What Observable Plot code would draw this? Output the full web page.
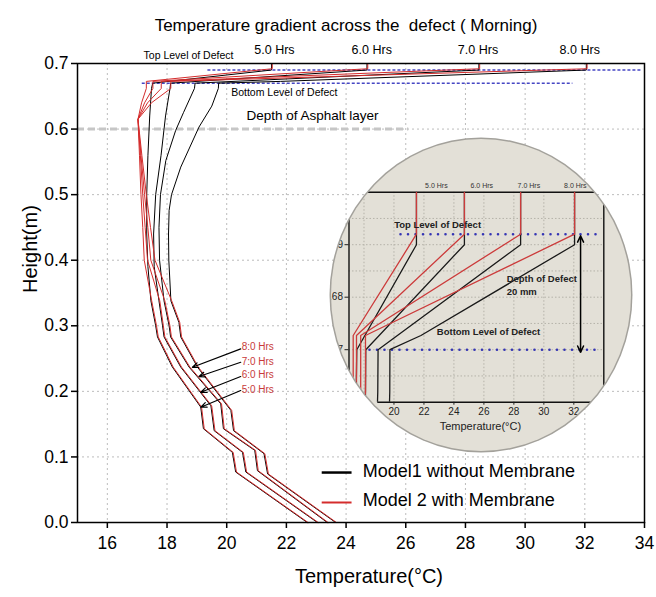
<!DOCTYPE html>
<html><head><meta charset="utf-8">
<script src="https://cdn.jsdelivr.net/npm/d3@7"></script>
<script src="https://cdn.jsdelivr.net/npm/@observablehq/plot@0.6"></script>
<style>
html,body{margin:0;padding:0;overflow:hidden;background:#fff;}
#wrap{position:relative;width:656px;height:597px;font-family:"Liberation Sans",Arial,sans-serif;}
#wrap svg{position:absolute;left:0;top:0;}
#lens{position:absolute;left:331px;top:139px;width:300px;height:312px;border-radius:50%;overflow:hidden;background:#e3e0d7;box-shadow:0 0 0 1.5px #a3a19b;}
#overlay{position:absolute;left:0;top:0;pointer-events:none;}
</style></head><body><div id="wrap"><div id="mainbox"></div><div id="lens"></div><div id="overlay"></div></div>
<script>
// ---------- data ----------
const hours = ["5.0 Hrs", "6.0 Hrs", "7.0 Hrs", "8.0 Hrs"];
const xTicks = [16, 18, 20, 22, 24, 26, 28, 30, 32, 34];
const yTicks = [0, 0.1, 0.2, 0.3, 0.4, 0.5, 0.6, 0.7];
const insetXTicks = [18, 20, 22, 24, 26, 28, 30, 32];
const insetYTicks = [0.67, 0.68, 0.69];
const arrowLabels = ["8:0 Hrs", "7:0 Hrs", "6:0 Hrs", "5:0 Hrs"];
const legendLabels = ["Model1 without Membrane", "Model 2 with Membrane"];

// upper parts (surface -> defect -> asphalt), [temperature °C, height m]
const model1Upper_5h = [[21.5,0.700],[21.5,0.690],[17.52,0.670],[17.48,0.662],[17.42,0.620],[17.36,0.560],[17.32,0.500],[17.32,0.440],[17.36,0.390]];
const model1Upper_6h = [[24.7,0.700],[24.7,0.690],[18.12,0.670],[18.10,0.662],[17.95,0.620],[17.80,0.560],[17.62,0.500],[17.55,0.440],[17.57,0.390]];
const model1Upper_7h = [[28.45,0.700],[28.45,0.690],[18.94,0.670],[18.92,0.662],[18.55,0.625],[18.29,0.598],[17.96,0.552],[17.78,0.500],[17.73,0.450],[17.75,0.400]];
const model1Upper_8h = [[32.05,0.700],[32.05,0.690],[21.80,0.6727],[19.73,0.670],[19.72,0.662],[19.50,0.635],[19.07,0.603],[18.46,0.542],[18.15,0.500],[18.07,0.476],[18.05,0.440],[18.06,0.400]];

const model2Upper_5h = [[21.5,0.700],[21.5,0.692],[17.28,0.6727],[17.28,0.662],[17.12,0.640],[17.00,0.615],[17.05,0.560],[17.10,0.500],[17.16,0.450],[17.21,0.400]];
const model2Upper_6h = [[24.7,0.700],[24.7,0.692],[17.50,0.6727],[17.50,0.662],[17.22,0.640],[17.00,0.615],[17.08,0.560],[17.16,0.500],[17.24,0.450],[17.32,0.400]];
const model2Upper_7h = [[28.45,0.700],[28.45,0.692],[17.78,0.6727],[17.78,0.662],[17.32,0.640],[17.00,0.615],[17.10,0.560],[17.22,0.500],[17.33,0.450],[17.43,0.400]];
const model2Upper_8h = [[32.05,0.700],[32.05,0.692],[18.10,0.6727],[18.10,0.662],[17.45,0.640],[17.00,0.615],[17.13,0.560],[17.28,0.500],[17.42,0.450],[17.57,0.400]];

// lower parts (base layers), shared by both models
const lower_5h = [[17.46,0.338],[17.62,0.300],[17.68,0.283],[18.18,0.237],[19.13,0.176],[19.22,0.143],[20.19,0.107],[20.30,0.077],[22.70,0.000]];
const lower_6h = [[17.73,0.338],[17.85,0.300],[17.90,0.283],[18.46,0.237],[19.47,0.178],[19.58,0.140],[20.53,0.107],[20.64,0.077],[23.04,0.000]];
const lower_7h = [[17.90,0.338],[18.07,0.300],[18.12,0.283],[18.74,0.237],[19.80,0.181],[19.89,0.143],[20.94,0.110],[21.03,0.079],[23.37,0.000]];
const lower_8h = [[18.13,0.338],[18.40,0.305],[18.46,0.283],[19.02,0.237],[20.14,0.171],[20.23,0.140],[21.25,0.105],[21.37,0.074],[23.65,0.000]];

// ---------- tables ----------
const model1 = [model1Upper_5h.concat(lower_5h), model1Upper_6h.concat(lower_6h), model1Upper_7h.concat(lower_7h), model1Upper_8h.concat(lower_8h)];
const model2 = [model2Upper_5h.concat(lower_5h), model2Upper_6h.concat(lower_6h), model2Upper_7h.concat(lower_7h), model2Upper_8h.concat(lower_8h)];
const toRows = (profiles) => profiles.flatMap((p, i) => p.map(([T, H]) => ({hour: hours[i], T, H})));
const rows1 = toRows(model1);
const rows2 = toRows(model2);

const FONT = "Liberation Sans, Arial, sans-serif";
const BLACK = "#000";
const RED = "#d42c2c";
const BLUE = "#4646c4";

// ---------- main chart ----------
const main = Plot.plot({
  width: 656, height: 597,
  marginLeft: 77, marginRight: 12, marginTop: 63, marginBottom: 75,
  style: {fontFamily: FONT, fontSize: "17.5px", color: "#000", background: "#fff"},
  x: {domain: [15, 34]},
  y: {domain: [0, 0.7]},
  marks: [
    Plot.ruleX(xTicks.slice(0, -1), {stroke: "#bcbcbc", strokeDasharray: "2,3", strokeWidth: 1}),
    Plot.ruleY(yTicks.slice(1, -1), {stroke: "#bcbcbc", strokeDasharray: "2,3", strokeWidth: 1}),
    Plot.ruleY([0.6], {x1: 15, x2: 26.1, stroke: "#c6c6c6", strokeWidth: 3, strokeDasharray: "7,4"}),
    Plot.ruleY([0.69], {x1: 19.37, x2: 33.9, stroke: BLUE, strokeWidth: 1.5, strokeDasharray: "3,2"}),
    Plot.ruleY([0.67], {x1: 17.17, x2: 31.6, stroke: BLUE, strokeWidth: 1.5, strokeDasharray: "3,2"}),
    Plot.line(rows1, {x: "T", y: "H", z: "hour", stroke: BLACK, strokeWidth: 1}),
    Plot.line(rows2, {x: "T", y: "H", z: "hour", stroke: RED, strokeWidth: 1, dx: 0.8}),
    Plot.frame({stroke: "#000", strokeWidth: 1.5}),
    Plot.axisX({ticks: xTicks, tickSize: 6, tickPadding: 8, label: null, strokeWidth: 1.5}),
    Plot.axisY({ticks: yTicks, tickSize: 6, tickPadding: 3, tickFormat: d3.format(".1f"), label: null, strokeWidth: 1.5}),
    Plot.text(["Temperature gradient across the  defect ( Morning)"], {frameAnchor: "top", dx: -15, dy: -45, fontSize: 17}),
    Plot.text(["Height(m)"], {frameAnchor: "left", dx: -47, rotate: -90, fontSize: 20}),
    Plot.text(["Temperature(°C)"], {frameAnchor: "bottom", dx: 8, dy: 60, fontSize: 20}),
    Plot.text(hours, {x: [21.6, 24.86, 28.42, 31.83], y: 0.721, fontSize: 12.5}),
    Plot.text(["Top Level of Defect"], {x: 18.72, y: 0.712, fontSize: 10.5}),
    Plot.text(["Bottom Level of Defect"], {x: 20.15, y: 0.655, textAnchor: "start", fontSize: 10.5}),
    Plot.text(["Depth of Asphalt layer"], {x: 20.66, y: 0.62, textAnchor: "start", fontSize: 13.5}),
    Plot.arrow(arrowLabels, {x1: 20.47, y1: [0.2648, 0.2444, 0.2226, 0.2012], x2: [18.85, 19.07, 19.13, 19.13], y2: [0.2367, 0.2226, 0.1986, 0.1758], stroke: "#000", strokeWidth: 1.2, headLength: 8, headAngle: 45}),
    Plot.text(arrowLabels, {x: 20.5, y: [0.2672, 0.2454, 0.2256, 0.2023], textAnchor: "start", fill: "#c83a3a", fontSize: 10}),
    Plot.ruleY([0.0762], {x1: 23.2, x2: 24.2, stroke: BLACK, strokeWidth: 2.5}),
    Plot.ruleY([0.0305], {x1: 23.2, x2: 24.2, stroke: RED, strokeWidth: 2}),
    Plot.text(legendLabels, {x: 24.56, y: [0.0777, 0.0335], textAnchor: "start", fontSize: 18})
  ]
});
document.getElementById("mainbox").appendChild(main);

// ---------- inset (magnifier) ----------
const inset = Plot.plot({
  width: 300, height: 312,
  marginLeft: 17.5, marginRight: 27.7, marginTop: 52.7, marginBottom: 49.3,
  style: {fontFamily: FONT, fontSize: "10px", color: "#222", background: "transparent"},
  x: {domain: [17, 34]},
  y: {domain: [0.66, 0.70]},
  marks: [
    Plot.ruleX(insetXTicks, {stroke: "#b5b2a9", strokeDasharray: "1.5,2", strokeWidth: 1}),
    Plot.ruleY([0.665, 0.67, 0.675, 0.68, 0.685, 0.69, 0.695], {stroke: "#b5b2a9", strokeDasharray: "1.5,2", strokeWidth: 1}),
    Plot.ruleY([0.70], {x1: 18.17, x2: 33.4, stroke: "#111", strokeWidth: 1.4}),
    Plot.ruleY([0.66], {x1: 18.92, x2: 34, stroke: "#111", strokeWidth: 1.4}),
    Plot.ruleX([17], {y1: 0.6627, y2: 0.6953, stroke: "#111", strokeWidth: 1.4}),
    Plot.ruleX([34], {y1: 0.6627, y2: 0.6978, stroke: "#111", strokeWidth: 1.4}),
    Plot.axisX({ticks: insetXTicks, tickSize: 3, tickPadding: 3, label: null}),
    Plot.axisY({ticks: insetYTicks, tickSize: 4, tickPadding: 2, tickFormat: d3.format(".2f"), label: null}),
    Plot.ruleY([0.692], {x1: 20.47, x2: 33.5, stroke: "#3434b4", strokeWidth: 2.6, strokeDasharray: "0,7.5", strokeLinecap: "round"}),
    Plot.ruleY([0.67], {x1: 18.4, x2: 33.5, stroke: "#3434b4", strokeWidth: 2.6, strokeDasharray: "0,7.5", strokeLinecap: "round"}),
    Plot.line(rows1, {x: "T", y: "H", z: "hour", stroke: "#1a1a1a", strokeWidth: 1.3, clip: true}),
    Plot.line(rows2, {x: "T", y: "H", z: "hour", stroke: "#cc3b3b", strokeWidth: 1.3, clip: true}),
    Plot.arrow([0, 1], {x1: 32.45, x2: 32.45, y1: 0.6806, y2: [0.6917, 0.6695], stroke: "#000", strokeWidth: 1.5, headLength: 7, headAngle: 50}),
    Plot.text(hours, {x: [22.83, 25.86, 29.0, 32.1], y: 0.7013, fontSize: 7, fill: "#333"}),
    Plot.text(["Top Level of Defect"], {x: 22.91, y: 0.6938, fontSize: 9.5, fontWeight: "bold", fill: "#222"}),
    Plot.text(["Bottom Level of Defect"], {x: 26.31, y: 0.6734, fontSize: 9.5, fontWeight: "bold", fill: "#222"}),
    Plot.text(["Depth of Defect", "20 mm"], {x: 27.52, y: [0.6834, 0.681], textAnchor: "start", fontSize: 9.5, fontWeight: "bold", fill: "#222"}),
    Plot.text(["Temperature(°C)"], {frameAnchor: "bottom", dx: 4, dy: 28, fontSize: 11, fill: "#222"})
  ]
});
document.getElementById("lens").appendChild(inset);

// ---------- overlay: pointer arrow ----------
const overlay = Plot.plot({
  width: 656, height: 597,
  marginLeft: 77, marginRight: 12, marginTop: 63, marginBottom: 75,
  style: {background: "transparent"},
  x: {domain: [15, 34], axis: null},
  y: {domain: [0, 0.7], axis: null},
  marks: [
    Plot.arrow([0], {x1: 28.42, y1: 0.6915, x2: 28.3, y2: 0.583, bend: 65, stroke: "#000", strokeWidth: 1.3, headLength: 9, headAngle: 45})
  ]
});
document.getElementById("overlay").appendChild(overlay);
</script></body></html>
